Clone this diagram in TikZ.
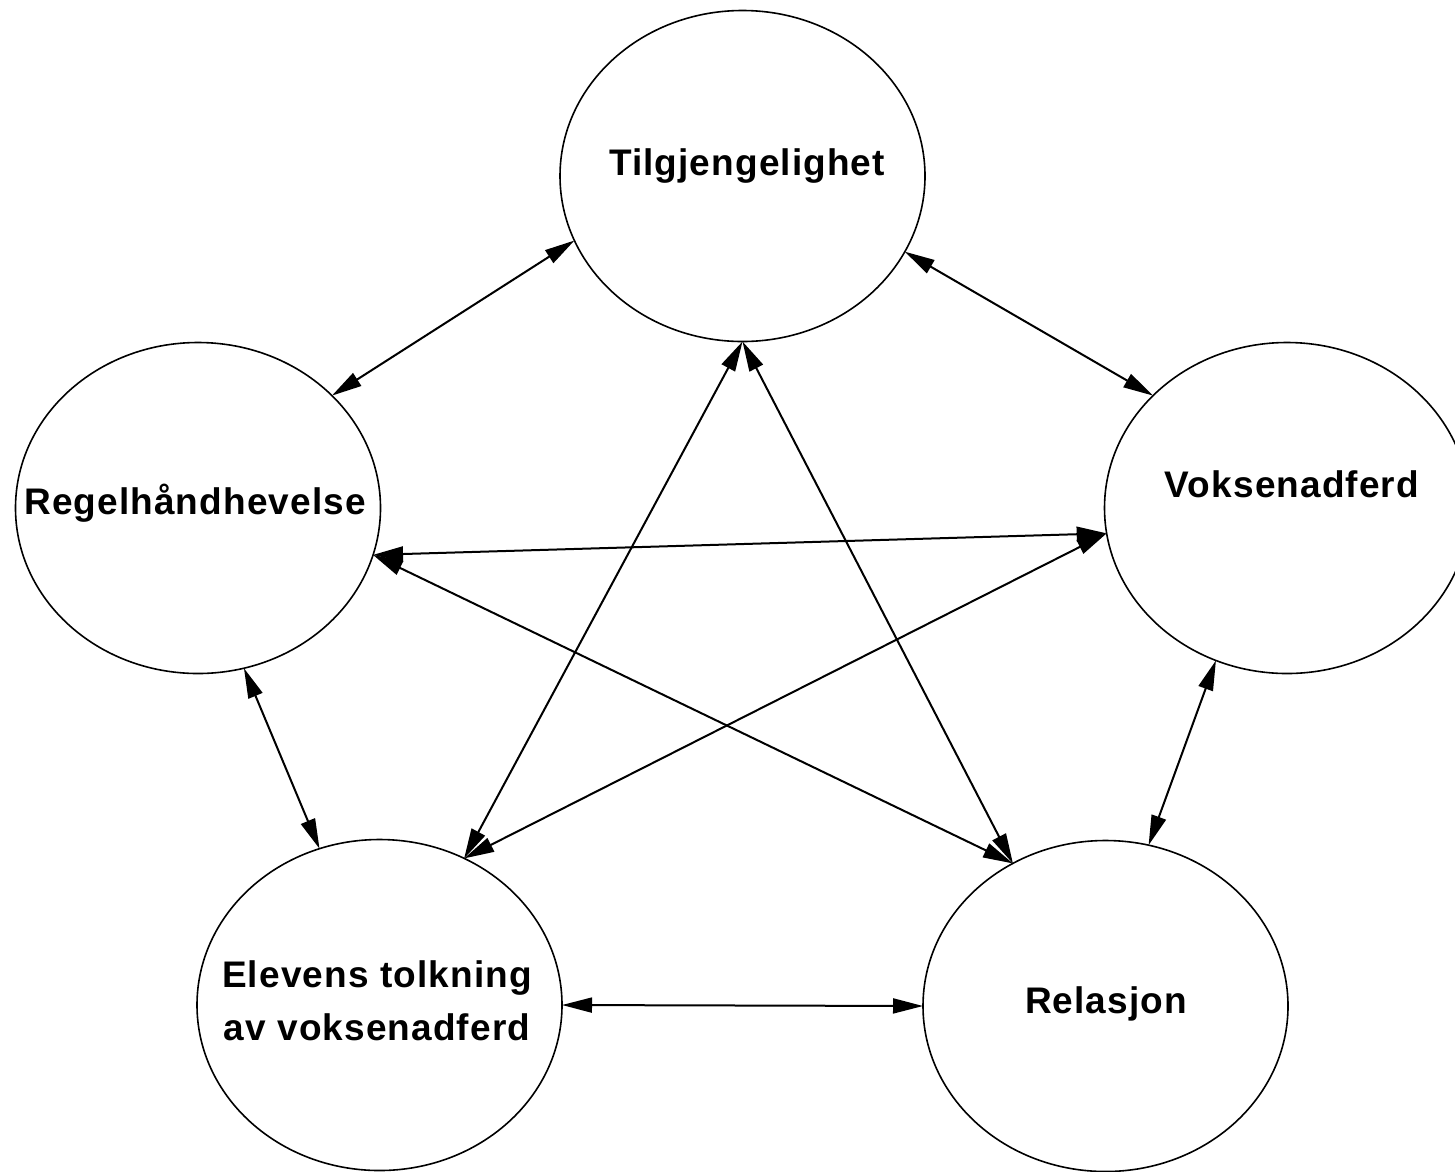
\documentclass[tikz,border=0pt]{standalone}
\usepackage{fontspec}
\setmainfont{Liberation Sans}[LetterSpace=3]
\usetikzlibrary{arrows.meta,shapes.geometric}
\begin{document}
\begin{tikzpicture}[x=1pt,y=-1pt,
  circ/.style={ellipse,draw,line width=1.6pt,inner sep=0pt,outer sep=0pt,
    minimum width=365pt,minimum height=331pt},
  lbl/.style={font=\fontsize{37}{53}\selectfont\bfseries,inner sep=0pt,anchor=base,align=center},
  link/.style={line width=2pt,{Triangle[length=30pt,width=15pt]}-{Triangle[length=30pt,width=15pt]}}]
\useasboundingbox (0,0) rectangle (1455,1171);
\fill[white] (0,0) rectangle (1455,1171);
\node[circ] (T) at (742.5,176) {};
\node[circ] (R) at (198,508) {};
\node[circ] (V) at (1287,508) {};
\node[circ] (E) at (379.5,1005) {};
\node[circ] (L) at (1105.5,1006) {};
\node[lbl] (tT) at (747,175) {Tilgjengelighet};
\node[lbl] (tR) at (195,514) {Regelhåndhevelse};
\node[lbl] (tV) at (1292,497) {Voksenadferd};
\node[lbl] (tE) at (377,1040) {Elevens tolkning\\av voksenadferd};
\node[lbl] (tL) at (1106,1013) {Relasjon};
\draw[link] (T.201.8) -- (R.40.4);
\draw[link] (T.335) -- (V.140.6);
\draw[link] (T.270) -- (E.60.7);
\draw[link] (T.270) -- (L.123.2);
\draw[link] (R.345.9) -- (V.188.5);
\draw[link] (R.345.9) -- (L.123.2);
\draw[link] (V.188.5) -- (E.60.7);
\draw[link] (R.286.4) -- (E.111.8);
\draw[link] (V.245.1) -- (L.75);
\draw[link] (E.0) -- (L.180);
\end{tikzpicture}
\end{document}
